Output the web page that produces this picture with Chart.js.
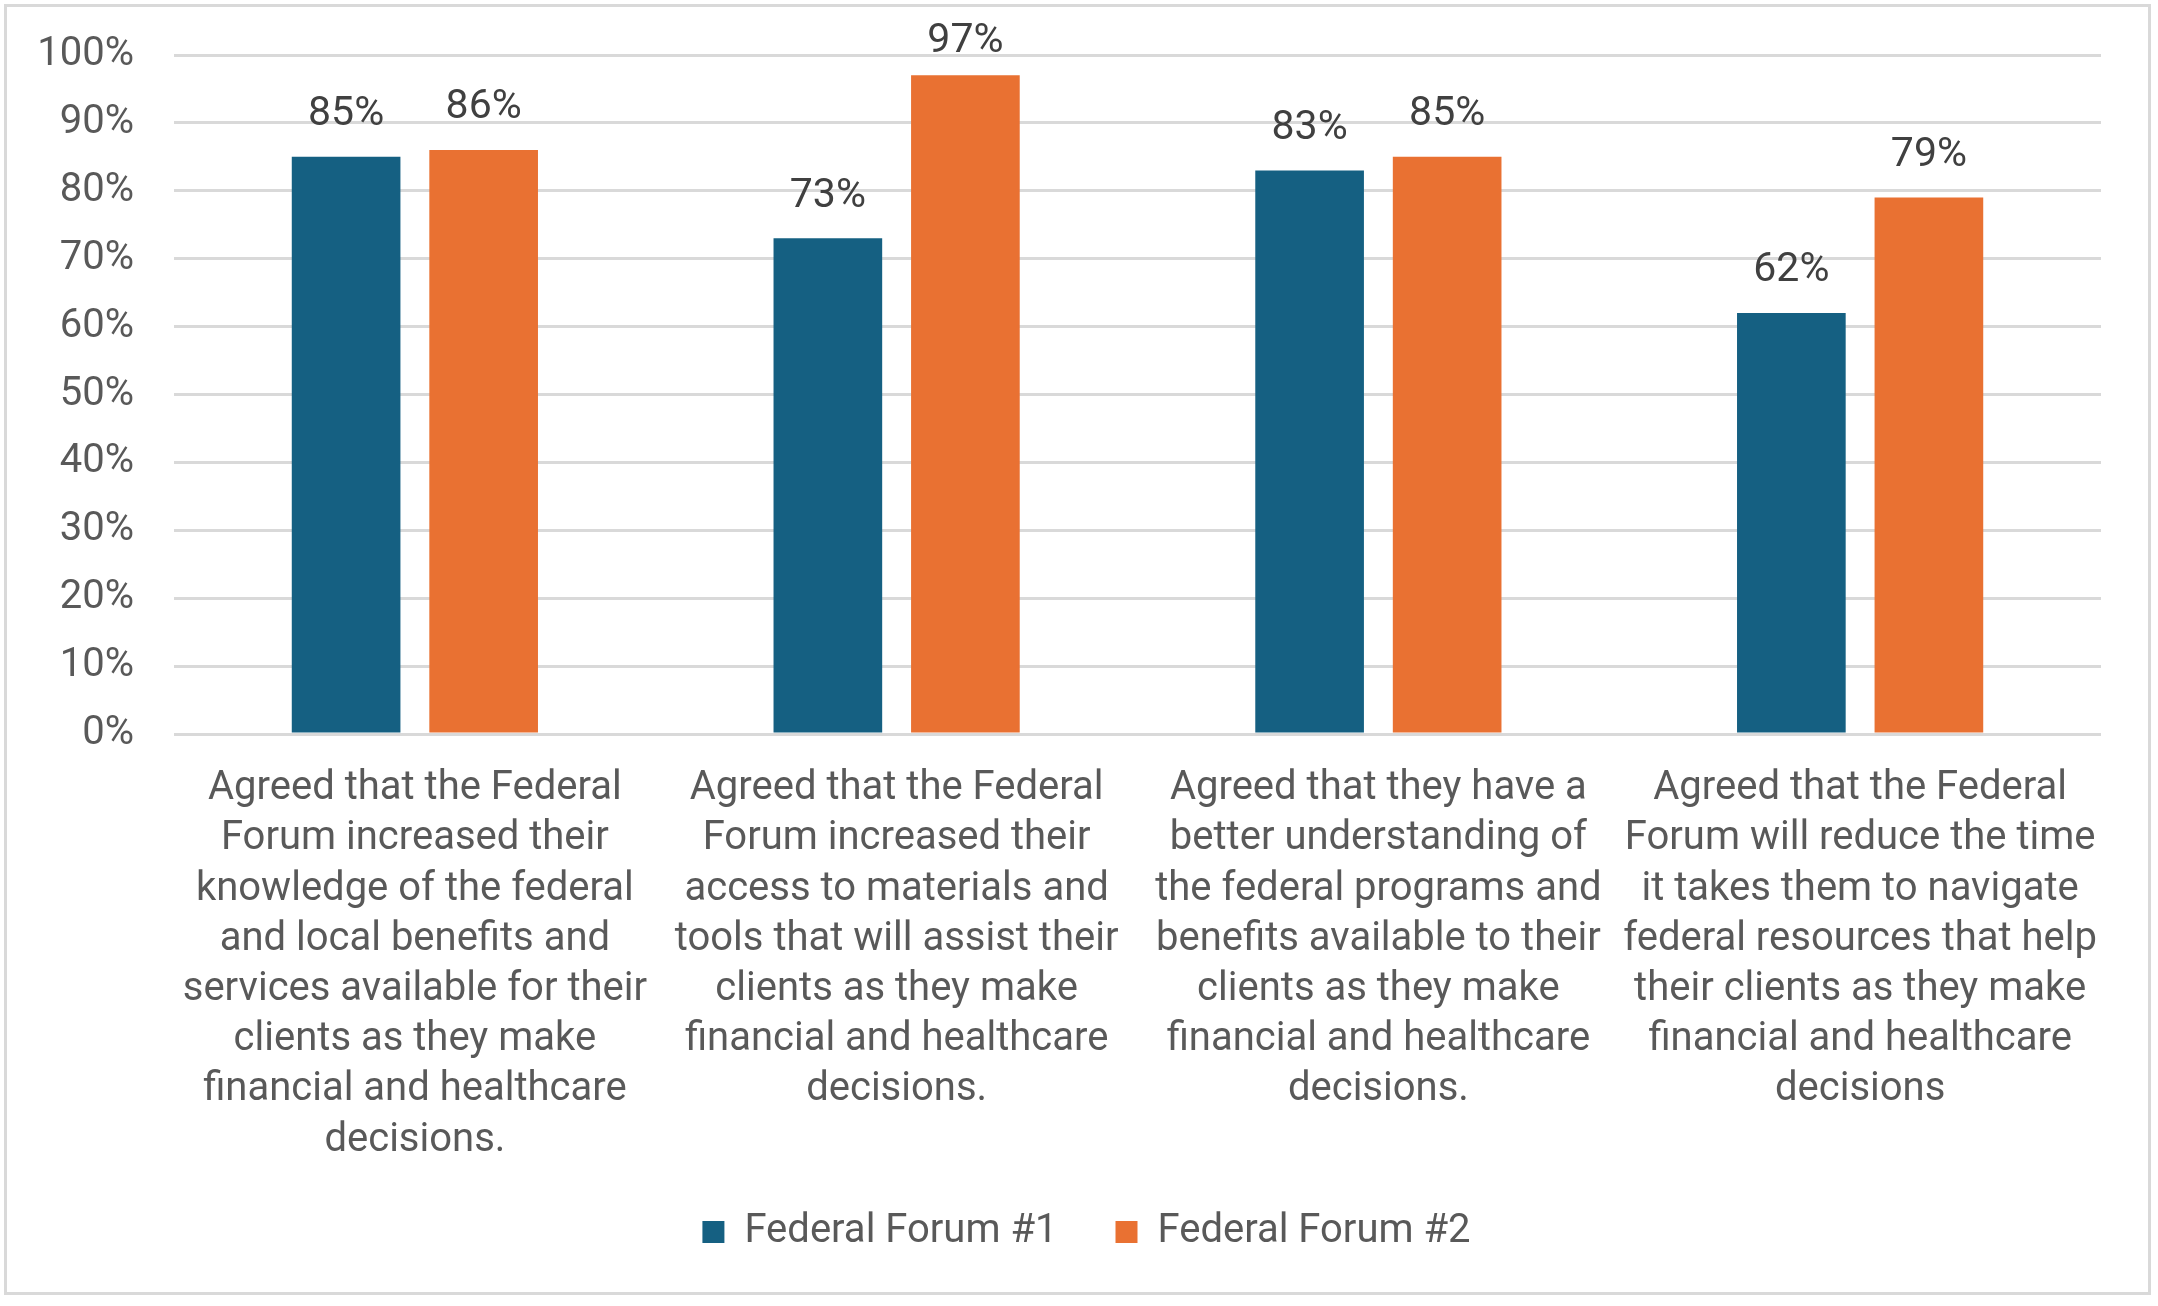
<!DOCTYPE html>
<html>
<head>
<meta charset="utf-8">
<script src="https://cdn.jsdelivr.net/npm/chart.js@4.4.1/dist/chart.umd.min.js"></script>
<style>
  html, body { margin: 0; padding: 0; background: #fff; }
  #wrap { width: 2158px; height: 1306px; position: relative; }
  #frame { position: absolute; left: 4px; top: 4px; width: 2147px; height: 1291px; border: 3px solid #d9d9d9; box-sizing: border-box; }
</style>
</head>
<body>
<div id="wrap">
  <div id="frame"></div>
  <canvas id="forumChart" width="2158" height="1306"></canvas>
</div>
<script>
// Libellés des catégories (déjà coupés en lignes comme dans l'original)
const categories = [
  ["Agreed that the Federal", "Forum increased their", "knowledge of the federal", "and local benefits and", "services available for their", "clients as they make", "financial and healthcare", "decisions."],
  ["Agreed that the Federal", "Forum increased their", "access to materials and", "tools that will assist their", "clients as they make", "financial and healthcare", "decisions."],
  ["Agreed that they have a", "better understanding of", "the federal programs and", "benefits available to their", "clients as they make", "financial and healthcare", "decisions."],
  ["Agreed that the Federal", "Forum will reduce the time", "it takes them to navigate", "federal resources that help", "their clients as they make", "financial and healthcare", "decisions"]
];

const seriesNames = ["Federal Forum #1", "Federal Forum #2"];
const forum1 = [85, 73, 83, 62];
const forum2 = [86, 97, 85, 79];

const textColor = "#595959";
const gridColor = "#d9d9d9";
const fontFamily = "Roboto, 'Liberation Sans', sans-serif";

// Plugin maison pour afficher les valeurs au-dessus des barres
// (l'étiquette reste collée au haut du graphique si la barre est trop haute)
const valueLabels = {
  id: "valueLabels",
  afterDatasetsDraw(chart) {
    const ctx = chart.ctx;
    const top = chart.chartArea.top;
    ctx.save();
    ctx.font = "41px " + fontFamily;
    ctx.fillStyle = "#404040";
    ctx.textAlign = "center";
    ctx.textBaseline = "middle";
    chart.data.datasets.forEach((ds, i) => {
      chart.getDatasetMeta(i).data.forEach((bar, j) => {
        const y = Math.max(bar.y - 42, top - 13);
        ctx.fillText(ds.data[j] + "%", bar.x, y);
      });
    });
    ctx.restore();
  }
};

// Décaler la légende vers la droite (centrée comme dans l'original)
const legendShift = {
  id: "legendShift",
  afterLayout(chart) {
    chart.legend.left += 36;
    chart.legend.right += 36;
  }
};

const ctx = document.getElementById("forumChart").getContext("2d");

const chart = new Chart(ctx, {
  type: "bar",
  data: {
    labels: categories,
    datasets: [
      {
        label: seriesNames[0],
        data: forum1,
        backgroundColor: "#156082",
        categoryPercentage: 0.571,
        barPercentage: 0.79,
      },
      {
        label: seriesNames[1],
        data: forum2,
        backgroundColor: "#E97132",
        categoryPercentage: 0.571,
        barPercentage: 0.79,
      },
    ],
  },
  options: {
    responsive: false,
    animation: false,
    layout: {
      autoPadding: false,
      padding: { left: 0, right: 57, top: 55, bottom: 44 },
    },
    plugins: {
      legend: {
        position: "bottom",
        labels: {
          color: textColor,
          font: { family: fontFamily, size: 40 },
          boxWidth: 22,
          boxHeight: 22,
          padding: 58,
        },
      },
      tooltip: { enabled: false },
    },
    scales: {
      x: {
        grid: { display: false },
        border: { display: false },
        ticks: {
          color: textColor,
          font: { family: fontFamily, size: 40, lineHeight: 1.255 },
          padding: 22,
          maxRotation: 0,
          autoSkip: false,
        },
        afterFit(scale) {
          scale.height = 420;
        },
      },
      y: {
        min: 0,
        max: 100,
        ticks: {
          stepSize: 10,
          color: textColor,
          font: { family: fontFamily, size: 40 },
          padding: 40,
          callback: (v) => v + "%",
        },
        grid: { color: gridColor, lineWidth: 3, drawTicks: false },
        border: { display: false },
        afterFit(scale) {
          scale.width = 174;
          scale.paddingTop = 0;
          scale.paddingBottom = 0;
        },
      },
    },
  },
  plugins: [valueLabels, legendShift],
});
</script>
</body>
</html>
